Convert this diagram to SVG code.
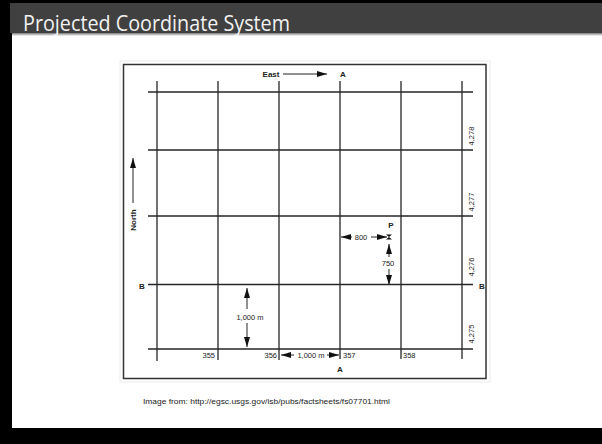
<svg xmlns="http://www.w3.org/2000/svg" width="602" height="444" viewBox="0 0 602 444">
<style>
.grid{stroke:#262626;stroke-width:1.3;fill:none}
.arr{stroke:#222;stroke-width:1;fill:none}
.t{font-family:"Liberation Sans",Arial,sans-serif;font-size:7.5px;fill:#222}
.b{font-weight:bold;font-size:8px}
.title{font-family:"Open Sans","Liberation Sans",sans-serif;font-size:21px;fill:#f2f2f2}
.cap{font-family:"Liberation Sans",Arial,sans-serif;font-size:8px;fill:#222}
</style>
<defs>
<marker id="ah" viewBox="0 0 10 6" refX="10" refY="3" markerWidth="10" markerHeight="6.5" markerUnits="userSpaceOnUse" orient="auto">
<path d="M0,0 L10,3 L0,6 Z" fill="#111"/>
</marker>
<linearGradient id="sh" x1="0" y1="0" x2="0" y2="1">
<stop offset="0" stop-color="#777"/>
<stop offset="1" stop-color="#fff"/>
</linearGradient>
</defs>
<rect x="0" y="0" width="602" height="444" fill="#000"/>
<g id="slide-body">
<rect x="12" y="33" width="590" height="395" fill="#fff"/>
<rect x="12" y="33" width="590" height="3" fill="url(#sh)"/>
</g>
<g id="title-bar">
<rect x="10" y="3" width="592" height="30" fill="#404040"/>
<text class="title" x="23" y="30.5" textLength="267" lengthAdjust="spacingAndGlyphs">Projected Coordinate System</text>
</g>
<g id="map-frame">
<rect x="120" y="61" width="370" height="321" fill="none" stroke="#ececec" stroke-width="1"/>
<rect x="123.5" y="64.5" width="362.5" height="314" fill="#fff" stroke="#333" stroke-width="1.5"/>
</g>
<g id="grid">
<line class="grid" x1="157" y1="81" x2="157" y2="361"/>
<line class="grid" x1="218" y1="81" x2="218" y2="360"/>
<line class="grid" x1="279" y1="81" x2="279" y2="360"/>
<line class="grid" x1="340" y1="81" x2="340" y2="359"/>
<line class="grid" x1="401" y1="81" x2="401" y2="359"/>
<line class="grid" x1="462" y1="81" x2="462" y2="359"/>
<line class="grid" x1="148" y1="92" x2="473" y2="92"/>
<line class="grid" x1="148" y1="150" x2="473" y2="150"/>
<line class="grid" x1="148" y1="216" x2="473" y2="216"/>
<line class="grid" x1="148" y1="284.5" x2="473" y2="284.5"/>
<line class="grid" x1="148" y1="349" x2="473" y2="349"/>
</g>
<g id="connectors">
<line class="arr" x1="283" y1="74" x2="327" y2="74" marker-end="url(#ah)"/>
<line class="arr" x1="133" y1="203" x2="133" y2="158" marker-end="url(#ah)"/>
<line class="arr" x1="352" y1="237" x2="341" y2="237" marker-end="url(#ah)"/>
<line class="arr" x1="371" y1="237" x2="387" y2="237" marker-end="url(#ah)"/>
<line class="arr" x1="389" y1="257" x2="389" y2="244" marker-end="url(#ah)"/>
<line class="arr" x1="389" y1="269" x2="389" y2="285" marker-end="url(#ah)"/>
<line class="arr" x1="247" y1="309" x2="247" y2="288" marker-end="url(#ah)"/>
<line class="arr" x1="247" y1="323" x2="247" y2="347" marker-end="url(#ah)"/>
<line class="arr" x1="294" y1="355" x2="281" y2="355" marker-end="url(#ah)"/>
<line class="arr" x1="327" y1="355" x2="339" y2="355" marker-end="url(#ah)"/>
</g>
<g id="point-p">
<path d="M386,234.5 L392,234.5 L389,237 Z M386,239.5 L392,239.5 L389,237 Z" fill="#111"/>
<text class="t b" x="391" y="228" text-anchor="middle">P</text>
</g>
<g id="labels">
<text class="t b" x="271" y="77" text-anchor="middle">East</text>
<text class="t b" x="343" y="77" text-anchor="middle">A</text>
<text class="t b" x="340" y="372" text-anchor="middle">A</text>
<text class="t b" x="142" y="288.5" text-anchor="middle">B</text>
<text class="t b" x="482" y="289" text-anchor="middle">B</text>
<text class="t b" transform="translate(136,220) rotate(-90)" text-anchor="middle">North</text>
<text class="t" x="361" y="239.5" text-anchor="middle">800</text>
<text class="t" x="388" y="265.5" text-anchor="middle">750</text>
<text class="t" x="250" y="319.5" text-anchor="middle">1,000 m</text>
<text class="t" x="311" y="357.5" text-anchor="middle">1,000 m</text>
<text class="t" x="215" y="357.5" text-anchor="end">355</text>
<text class="t" x="277" y="357.5" text-anchor="end">356</text>
<text class="t" x="343" y="357.5">357</text>
<text class="t" x="403" y="357.5">358</text>
<text class="t" transform="translate(474,136) rotate(-90)" text-anchor="middle">4,278</text>
<text class="t" transform="translate(474,202) rotate(-90)" text-anchor="middle">4,277</text>
<text class="t" transform="translate(474,267) rotate(-90)" text-anchor="middle">4,276</text>
<text class="t" transform="translate(474,334) rotate(-90)" text-anchor="middle">4,275</text>
</g>
<g id="caption">
<text class="cap" x="143" y="403.5" textLength="247" lengthAdjust="spacingAndGlyphs">Image from: http://egsc.usgs.gov/isb/pubs/factsheets/fs07701.html</text>
</g>
</svg>
